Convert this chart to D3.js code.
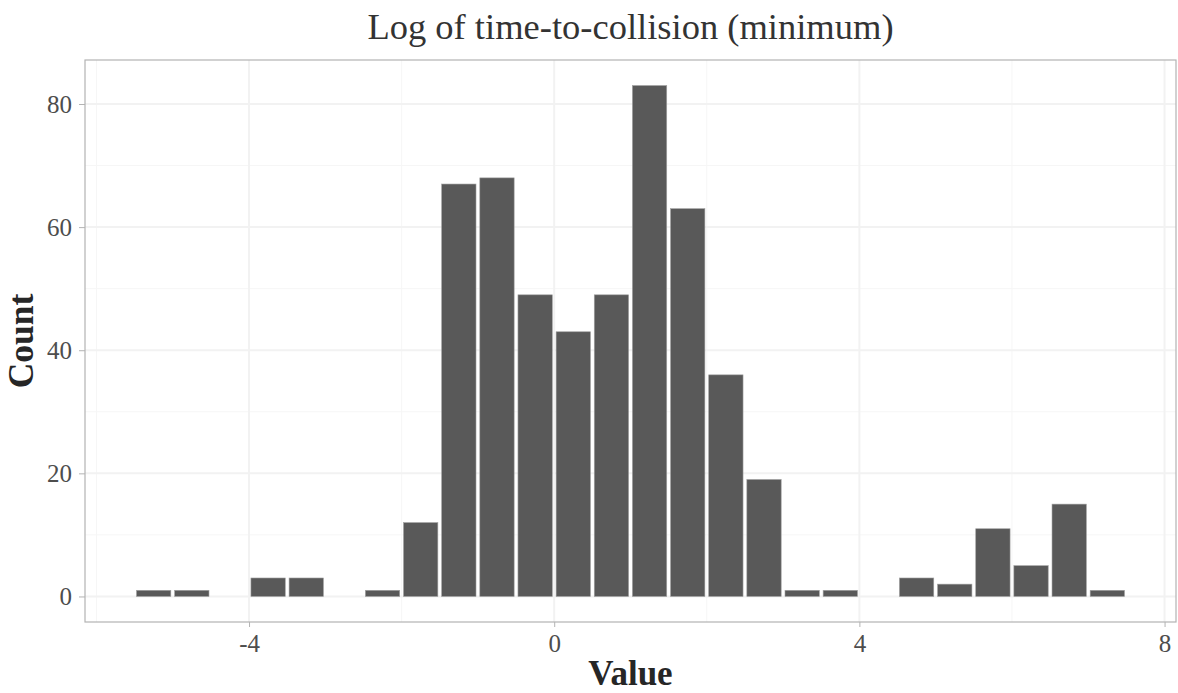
<!DOCTYPE html>
<html>
<head>
<meta charset="utf-8">
<script src="https://cdn.jsdelivr.net/npm/d3@7"></script>
<style>
  body { margin: 0; background: #fff; }
  text { font-family: "Liberation Serif", "DejaVu Serif", serif; }
</style>
</head>
<body>
<svg id="chart"></svg>
<script>
// bins of width 0.5, given by their left edge
const binStarts = [-5.5, -5, -4.5, -4, -3.5, -3, -2.5, -2, -1.5, -1, -0.5, 0, 0.5, 1, 1.5, 2, 2.5, 3, 3.5, 4, 4.5, 5, 5.5, 6, 6.5, 7]
const counts = [1, 1, 0, 3, 3, 0, 1, 12, 67, 68, 49, 43, 49, 83, 63, 36, 19, 1, 1, 0, 3, 2, 11, 5, 15, 1]
const binWidth = 0.5
const xTicks = [-4, 0, 4, 8]
const xMinor = [-6, -2, 2, 6]
const yTicks = [0, 20, 40, 60, 80]
const yMinor = [10, 30, 50, 70]

const width = 1178
const height = 693
const panel = { left: 85, right: 1176, top: 60, bottom: 622 }

const svg = d3.select('#chart').attr('width', width).attr('height', height)

// шкалы с расширением как в ggplot (5%)
const xMin = d3.min(binStarts)
const xMax = d3.max(binStarts) + binWidth
const xPad = (xMax - xMin) * 0.05
const scaleX = d3.scaleLinear()
  .domain([xMin - xPad, xMax + xPad])
  .range([panel.left, panel.right])

const yMax = d3.max(counts)
const scaleY = d3.scaleLinear()
  .domain([-yMax * 0.05, yMax * 1.05])
  .range([panel.bottom, panel.top])

// сетка
const grid = svg.append('g')
grid.selectAll('.minor-x').data(xMinor).enter().append('line')
  .attr('x1', d => scaleX(d)).attr('x2', d => scaleX(d))
  .attr('y1', panel.top).attr('y2', panel.bottom)
  .attr('stroke', '#f6f6f6').attr('stroke-width', 1)
grid.selectAll('.minor-y').data(yMinor).enter().append('line')
  .attr('y1', d => scaleY(d)).attr('y2', d => scaleY(d))
  .attr('x1', panel.left).attr('x2', panel.right)
  .attr('stroke', '#f6f6f6').attr('stroke-width', 1)
grid.selectAll('.major-x').data(xTicks).enter().append('line')
  .attr('x1', d => scaleX(d)).attr('x2', d => scaleX(d))
  .attr('y1', panel.top).attr('y2', panel.bottom)
  .attr('stroke', '#f2f2f2').attr('stroke-width', 2)
grid.selectAll('.major-y').data(yTicks).enter().append('line')
  .attr('y1', d => scaleY(d)).attr('y2', d => scaleY(d))
  .attr('x1', panel.left).attr('x2', panel.right)
  .attr('stroke', '#f2f2f2').attr('stroke-width', 2)

// столбцы гистограммы
const bw = scaleX(binWidth) - scaleX(0)
svg.append('g').selectAll('rect').data(binStarts.map((s, i) => ({ s, c: counts[i] })).filter(d => d.c > 0))
  .enter().append('rect')
  .attr('x', d => scaleX(d.s) + bw * 0.05)
  .attr('width', bw * 0.9)
  .attr('y', d => scaleY(d.c))
  .attr('height', d => scaleY(0) - scaleY(d.c))
  .attr('fill', '#595959')
  .attr('stroke', '#a0a0a0')
  .attr('stroke-width', 0.6)

// рамка панели
svg.append('rect')
  .attr('x', panel.left).attr('y', panel.top)
  .attr('width', panel.right - panel.left).attr('height', panel.bottom - panel.top)
  .attr('fill', 'none').attr('stroke', '#b3b3b3').attr('stroke-width', 1.2)

// оси
const axisX = svg.append('g')
  .attr('transform', `translate(0, ${panel.bottom})`)
  .call(d3.axisBottom(scaleX).tickValues(xTicks).tickSize(5).tickPadding(7).tickFormat(d => String(d)))
axisX.select('.domain').remove()
axisX.selectAll('line').attr('stroke', '#b3b3b3')
axisX.selectAll('text').attr('fill', '#4d4d4d').style('font-size', '25px')
  .style('font-family', '"Liberation Serif", serif')

const axisY = svg.append('g')
  .attr('transform', `translate(${panel.left}, 0)`)
  .call(d3.axisLeft(scaleY).tickValues(yTicks).tickSize(6).tickPadding(7).tickFormat(d => String(d)))
axisY.select('.domain').remove()
axisY.selectAll('line').attr('stroke', '#b3b3b3')
axisY.selectAll('text').attr('fill', '#4d4d4d').style('font-size', '25px')
  .style('font-family', '"Liberation Serif", serif')

// подписи
svg.append('text')
  .attr('x', (panel.left + panel.right) / 2).attr('y', 39)
  .attr('text-anchor', 'middle')
  .style('font-size', '36.5px').attr('fill', '#333')
  .text('Log of time-to-collision (minimum)')

svg.append('text')
  .attr('x', (panel.left + panel.right) / 2).attr('y', 685)
  .attr('text-anchor', 'middle')
  .style('font-size', '35px').style('font-weight', 'bold').attr('fill', '#262626')
  .text('Value')

svg.append('text')
  .attr('transform', `translate(33, ${(panel.top + panel.bottom) / 2}) rotate(-90)`)
  .attr('text-anchor', 'middle')
  .style('font-size', '35.5px').style('font-weight', 'bold').attr('fill', '#262626')
  .text('Count')
</script>
</body>
</html>
